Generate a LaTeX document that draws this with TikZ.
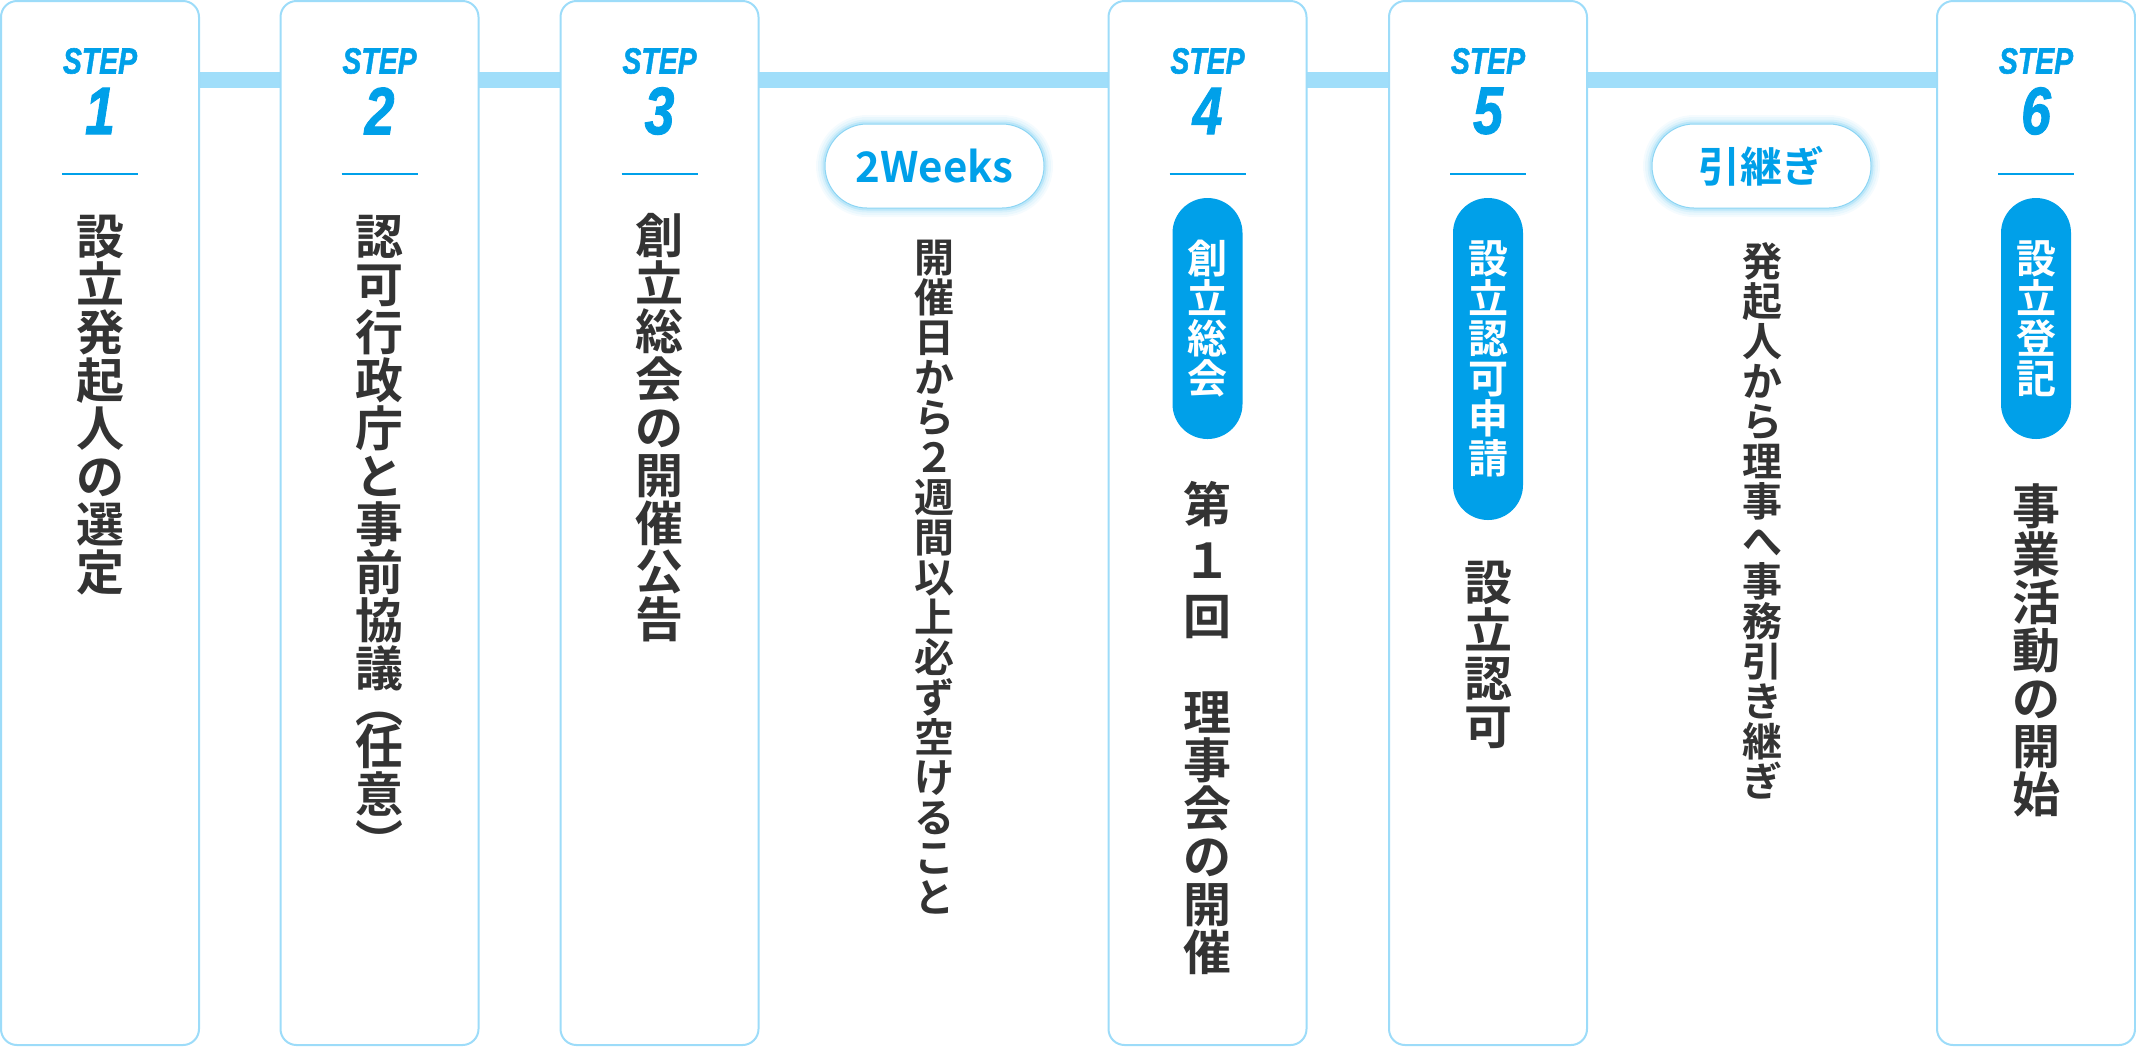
\documentclass[tikz,border=0pt]{standalone}
\usepackage{fontspec}
\usepackage{graphicx}
\newfontfamily\jpb{Noto Sans CJK JP Bold}
\newfontfamily\stepfont{Liberation Sans Bold Italic}[FakeBold=1.6]
\definecolor{boxline}{HTML}{9DDCF9}
\definecolor{barc}{HTML}{A0DEFA}
\definecolor{stepblue}{HTML}{00A0E9}
\definecolor{inkc}{HTML}{333333}
\definecolor{glowc}{HTML}{5BC3F0}
\pgfdeclarelayer{background}
\pgfsetlayers{background,main}
\tikzset{
  stepbox/.style={draw=boxline, line width=1pt, fill=white, rounded corners=8pt,
    minimum width=99pt, minimum height=522pt, inner sep=0pt, outer sep=0pt},
  steplabel/.style={text=stepblue, inner sep=0pt,
    font=\stepfont\fontsize{18.2pt}{18.2pt}\selectfont},
  stepnum/.style={text=stepblue, inner sep=0pt,
    font=\stepfont\fontsize{33.5pt}{33.5pt}\selectfont},
  divline/.style={draw=stepblue, line width=1pt},
  barline/.style={draw=barc, line width=8pt},
  vtext/.style={text=inkc, font=\jpb\fontsize{24pt}{24pt}\selectfont,
    align=center, inner sep=0pt, anchor=north},
  vsmall/.style={text=inkc, font=\jpb\fontsize{20pt}{20pt}\selectfont,
    align=center, inner sep=0pt, anchor=north},
  bluepill/.style={fill=stepblue, rounded corners=17.5pt, minimum width=35pt,
    inner sep=0pt, text=white, font=\jpb\fontsize{20pt}{20pt}\selectfont, align=center},
  notepill/.style={fill=white, draw=glowc!70, line width=0.5pt, rounded corners=21pt,
    minimum width=109.5pt, minimum height=42pt, inner sep=0pt, text=stepblue,
    font=\jpb\fontsize{21pt}{21pt}\selectfont,
    preaction={draw=glowc, line width=9pt, opacity=0.06},
    preaction={draw=glowc, line width=7pt, opacity=0.08},
    preaction={draw=glowc, line width=4.5pt, opacity=0.12},
    preaction={draw=glowc, line width=2.5pt, opacity=0.22}},
}
\newcommand{\steplbl}[3]{%
  \node[steplabel] (#1s) at (#2,61) {\scalebox{0.78}[1]{STEP}};
  \node[stepnum] (#1n) at (#2,111) {\scalebox{0.8}[1]{#3}};
  \coordinate (#1a) at ([xshift=-19pt]#2,174);
  \coordinate (#1b) at ([xshift=19pt]#2,174);
  \draw[divline] (#1a) -- (#1b);
}
\begin{document}
\begin{tikzpicture}[x=0.5pt,y=-0.5pt]
\useasboundingbox (0,0) rectangle (2136,1046);
% boxes
\node[stepbox] (b1) at (100,523) {};
\node[stepbox] (b2) at (379.5,523) {};
\node[stepbox] (b3) at (659.5,523) {};
\node[stepbox] (b4) at (1207.5,523) {};
\node[stepbox] (b5) at (1488,523) {};
\node[stepbox] (b6) at (2036,523) {};
\coordinate (bary) at (0,80);
\begin{pgfonlayer}{background}
\draw[barline] (b1.center |- bary) -- (b6.center |- bary);
\end{pgfonlayer}
% step labels
\steplbl{s1}{100}{1}
\steplbl{s2}{379.5}{2}
\steplbl{s3}{659.5}{3}
\steplbl{s4}{1207.5}{4}
\steplbl{s5}{1488}{5}
\steplbl{s6}{2036}{6}
% box texts
\node[vtext] (t1) at (100,215) {設\\立\\発\\起\\人\\の\\選\\定};
\node[vtext] (t2) at (379.5,215) {認\\可\\行\\政\\庁\\と\\事\\前\\協\\議\\[-6pt]︵\\[-3pt]任\\意\\︶};
\node[vtext] (t3) at (659.5,213) {創\\立\\総\\会\\の\\開\\催\\公\\告};
% gap 1
\node[notepill] (n1) at (934.5,166) {2Weeks};
\node[vsmall] (g1) at (934,240) {開\\催\\日\\か\\ら\\２\\週\\間\\以\\上\\必\\ず\\空\\け\\る\\こ\\と};
% box 4
\node[bluepill, minimum height=120.5pt] (p4) at (1207.5,318.5) {創\\立\\総\\会};
\node[vtext] (t4) at (1207.5,481) {第\\[4pt]１\\[4pt]回\\　\\理\\事\\会\\の\\開\\催};
% box 5
\node[bluepill, minimum height=161pt] (p5) at (1488,359) {設\\立\\認\\可\\申\\請};
\node[vtext] (t5) at (1488,561) {設\\立\\認\\可};
% gap 2
\node[notepill] (n2) at (1761.5,166) {引継ぎ};
\node[vsmall] (g2) at (1762,242) {発\\起\\人\\か\\ら\\理\\事\\へ\\事\\務\\引\\き\\継\\ぎ};
% box 6
\node[bluepill, minimum height=120.5pt] (p6) at (2036,318.5) {設\\立\\登\\記};
\node[vtext] (t6) at (2036,483) {事\\業\\活\\動\\の\\開\\始};
\end{tikzpicture}
\end{document}
